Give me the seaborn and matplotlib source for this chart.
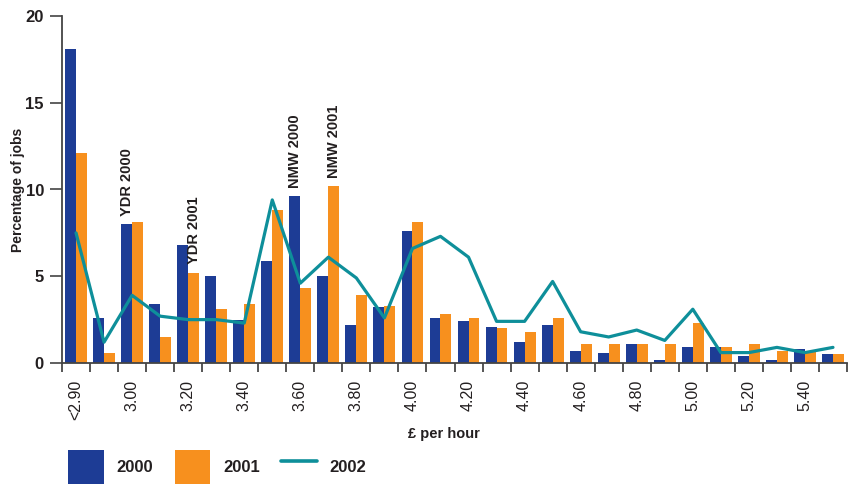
import numpy as np
import pandas as pd
import matplotlib
matplotlib.use("Agg")
import matplotlib.pyplot as plt
import seaborn as sns
from matplotlib.patches import Patch
from matplotlib.lines import Line2D

categories = ['<2.90', '2.90', '3.00', '3.10', '3.20', '3.30', '3.40', '3.50',
              '3.60', '3.70', '3.80', '3.90', '4.00', '4.10', '4.20', '4.30',
              '4.40', '4.50', '4.60', '4.70', '4.80', '4.90', '5.00', '5.10',
              '5.20', '5.30', '5.40', '5.50']
v2000 = [18.1, 2.6, 8.0, 3.4, 6.8, 5.0, 2.5, 5.9, 9.6, 5.0, 2.2, 3.2, 7.6, 2.6,
         2.4, 2.1, 1.2, 2.2, 0.7, 0.6, 1.1, 0.2, 0.9, 0.9, 0.4, 0.2, 0.8, 0.5]
v2001 = [12.1, 0.6, 8.1, 1.5, 5.2, 3.1, 3.4, 8.8, 4.3, 10.2, 3.9, 3.3, 8.1, 2.8,
         2.6, 2.0, 1.8, 2.6, 1.1, 1.1, 1.1, 1.1, 2.3, 0.9, 1.1, 0.7, 0.7, 0.5]
v2002 = [7.5, 1.2, 3.9, 2.7, 2.5, 2.5, 2.3, 9.4, 4.6, 6.1, 4.9, 2.6, 6.6, 7.3,
         6.1, 2.4, 2.4, 4.7, 1.8, 1.5, 1.9, 1.3, 3.1, 0.6, 0.6, 0.9, 0.6, 0.9]
tick_labels = categories[::2]
y_ticks = [0, 5, 10, 15, 20]

annot_labels = ['YDR 2000', 'YDR 2001', 'NMW 2000', 'NMW 2001']
annot_cats = ['3.00', '3.20', '3.60', '3.70']
annot_series = ['2000', '2001', '2000', '2001']

C2000 = '#1d3c95'
C2001 = '#f7901e'
C2002 = '#0e8f9a'
TXT = '#231f20'

sns.set_theme(style='white')
plt.rcParams['font.family'] = ['Liberation Sans', 'DejaVu Sans']

df = pd.DataFrame({
    'cat': categories * 2,
    'val': v2000 + v2001,
    'year': ['2000'] * len(categories) + ['2001'] * len(categories),
})

fig = plt.figure(figsize=(8.5, 4.86), dpi=100)
ax = fig.add_axes([62 / 850, 1 - 363 / 486, 785 / 850, 347 / 486])

sns.barplot(data=df, x='cat', y='val', hue='year', order=categories,
            hue_order=['2000', '2001'], palette=[C2000, C2001],
            width=0.78, gap=0, saturation=1, legend=False, ax=ax,
            edgecolor='none', linewidth=0)
sns.lineplot(x=np.arange(len(categories)), y=v2002, color=C2002,
             linewidth=2.3, ax=ax, legend=False)

ax.set_xlim(-0.5, len(categories) - 0.5)
ax.set_ylim(0, 20)

# annotations
series_idx = {'2000': 0, '2001': 1}
for lab, cat, s in zip(annot_labels, annot_cats, annot_series):
    bar = ax.containers[series_idx[s]][categories.index(cat)]
    ax.annotate(lab, (bar.get_x() + bar.get_width() / 2, bar.get_height()),
                xytext=(0, 6), textcoords='offset points', rotation=90,
                ha='center', va='bottom', fontsize=10.5, fontweight='bold',
                color=TXT)

# ticks
ax.set_xticks(np.arange(0, len(categories), 2))
ax.set_xticklabels(tick_labels, rotation=90, fontsize=11.5, color=TXT)
ax.set_xticks(np.arange(-0.5, len(categories), 1), minor=True)
ax.tick_params(axis='x', which='major', length=0, pad=12)
ax.tick_params(axis='x', which='minor', length=6.5, width=1.4,
               color='#555555', bottom=True)
ax.set_yticks(y_ticks)
ax.set_yticklabels([str(t) for t in y_ticks], fontsize=12,
                   fontweight='bold', color=TXT)
ax.tick_params(axis='y', which='major', length=9, width=1.2,
               color='#444444', pad=4, left=True)

for sp in ['top', 'right']:
    ax.spines[sp].set_visible(False)
for sp in ['left', 'bottom']:
    ax.spines[sp].set_color('#444444')
    ax.spines[sp].set_linewidth(1.3)

ax.set_ylabel('Percentage of jobs', fontsize=10, fontweight='bold',
              color=TXT)
ax.yaxis.set_label_coords(-0.0475, 0.5)
ax.set_xlabel('£ per hour', fontsize=10.5, fontweight='bold', color=TXT)
ax.xaxis.set_label_coords(0.487, -0.206)
ax.xaxis.label.set_va('center')

handles = [Patch(facecolor=C2000, edgecolor='none'),
           Patch(facecolor=C2001, edgecolor='none'),
           Line2D([0], [0], color=C2002, linewidth=2.6)]
leg = fig.legend(handles, ['2000', '2001', '2002'], loc='upper left',
                 bbox_to_anchor=(68 / 850, 1 - 450 / 486), ncol=3,
                 frameon=False, borderpad=0, borderaxespad=0,
                 handlelength=2.15, handleheight=2.75, handletextpad=0.75,
                 columnspacing=1.3, prop={'size': 12, 'weight': 'bold'})
for t in leg.get_texts():
    t.set_color(TXT)

fig.savefig('out.png', dpi=100)
